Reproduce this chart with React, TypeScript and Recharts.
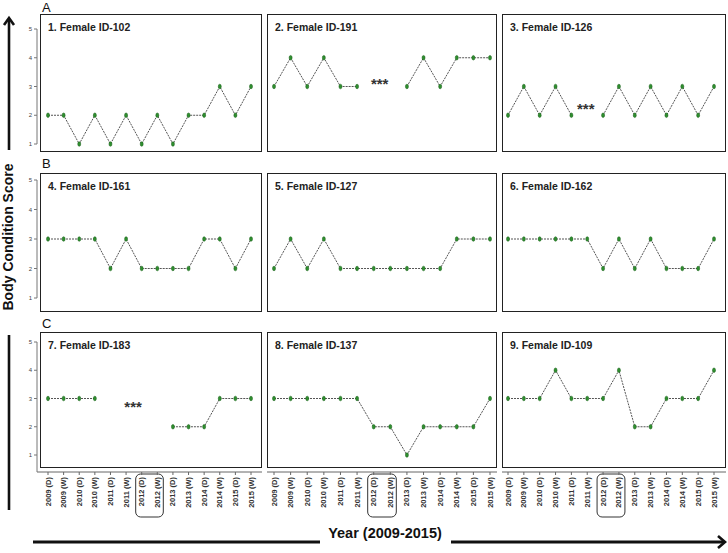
import React from 'react';
import { LineChart, Line, XAxis, YAxis, ReferenceDot, ReferenceArea } from 'recharts';

const categories = [
  '2009 (D)', '2009 (W)', '2010 (D)', '2010 (W)', '2011 (D)', '2011 (W)', '2012 (D)',
  '2012 (W)', '2013 (D)', '2013 (W)', '2014 (D)', '2014 (W)', '2015 (D)', '2015 (W)',
];

const id102 = [2, 2, 1, 2, 1, 2, 1, 2, 1, 2, 2, 3, 2, 3];
const id191 = [3, 4, 3, 4, 3, 3, null, null, 3, 4, 3, 4, 4, 4];
const id126 = [2, 3, 2, 3, 2, null, 2, 3, 2, 3, 2, 3, 2, 3];
const id161 = [3, 3, 3, 3, 2, 3, 2, 2, 2, 2, 3, 3, 2, 3];
const id127 = [2, 3, 2, 3, 2, 2, 2, 2, 2, 2, 2, 3, 3, 3];
const id162 = [3, 3, 3, 3, 3, 3, 2, 3, 2, 3, 2, 2, 2, 3];
const id183 = [3, 3, 3, 3, null, null, null, null, 2, 2, 2, 3, 3, 3];
const id137 = [3, 3, 3, 3, 3, 3, 2, 2, 1, 2, 2, 2, 2, 3];
const id109 = [3, 3, 3, 4, 3, 3, 3, 4, 2, 2, 3, 3, 3, 4];

const seriesKeys = ['id102', 'id191', 'id126', 'id161', 'id127', 'id162', 'id183', 'id137', 'id109'];
const seriesValues = [id102, id191, id126, id161, id127, id162, id183, id137, id109];
const panelTitles = [
  '1. Female ID-102', '2. Female ID-191', '3. Female ID-126',
  '4. Female ID-161', '5. Female ID-127', '6. Female ID-162',
  '7. Female ID-183', '8. Female ID-137', '9. Female ID-109',
];
const rowLetters = ['A', 'B', 'C'];
const yTicks = [1, 2, 3, 4, 5];

const data = categories.map((cat, i) => {
  const row: any = { cat };
  seriesKeys.forEach((k, j) => {
    row[k] = seriesValues[j][i];
  });
  return row;
});

// where the "***" gap markers sit (panel index -> category / score)
const gapMarks: Record<number, { x: string; y: number; dx: number; dy: number }> = {
  1: { x: '2012 (D)', y: 3, dx: 6, dy: 2.5 },
  2: { x: '2011 (W)', y: 2, dx: -1.5, dy: -1 },
  6: { x: '2011 (W)', y: 3, dx: 7, dy: 13.5 },
};

const COLS = [
  { boxL: 40, boxR: 262, chartL: 0, yW: 37, padL: 11, padR: 11 },
  { boxL: 267, boxR: 497, chartL: 267, yW: 0, padL: 7, padR: 7 },
  { boxL: 502, boxR: 726, chartL: 502, yW: 0, padL: 6, padR: 12 },
];
const ROWS = [
  { boxT: 14, boxB: 152, y5: 29, y1: 144 },
  { boxT: 173, boxB: 312, y5: 180, y1: 298 },
  { boxT: 332, boxB: 468, y5: 342, y1: 455, axisY: 472, chartB: 532 },
];
const LETTER_Y = [12, 168, 328];

const FONT = '"Liberation Sans", Arial, sans-serif';

const GreenDot = (p: any) => {
  if (p.cy == null || p.cx == null || p.value == null) return <g key={p.key} />;
  return (
    <ellipse key={p.key} cx={p.cx} cy={p.cy} rx={1.5} ry={2.3} fill="#2f8f2f" stroke="#175c17" strokeWidth={0.5} />
  );
};

const RotTick = (p: any) => (
  <text
    x={p.x}
    y={p.y}
    transform={`rotate(-90 ${p.x} ${p.y})`}
    textAnchor="end"
    dominantBaseline="central"
    fontSize={7.5}
    fontWeight="bold"
    fill="#333"
    fontFamily={FONT}
  >
    {p.payload.value}
  </text>
);

const HighlightBox = (p: any) => (
  <rect
    x={p.x - 6}
    y={p.y + p.height + 19}
    width={p.width + 12}
    height={43}
    rx={5}
    fill="none"
    stroke="#333"
    strokeWidth={1}
  />
);

function Panel({ r, c }: { r: number; c: number }) {
  const idx = r * 3 + c;
  const col = COLS[c];
  const row = ROWS[r];
  const bottomRow = r === 2;
  const chartH = bottomRow ? row.chartB! - row.boxT : row.boxB - row.boxT;
  const margin = bottomRow
    ? { top: row.y5 - row.boxT, right: 0, bottom: 0, left: 0 }
    : { top: row.y5 - row.boxT, right: 0, bottom: row.boxB - row.y1, left: 0 };
  const mark = gapMarks[idx];

  return (
    <>
      <div
        style={{
          position: 'absolute',
          left: col.boxL,
          top: row.boxT,
          width: col.boxR - col.boxL,
          height: row.boxB - row.boxT,
          border: '1.6px solid #222',
          boxSizing: 'border-box',
        }}
      />
      <div
        style={{
          position: 'absolute',
          left: col.boxL + 8,
          top: row.boxT + 6.5,
          fontSize: 10.5,
          fontWeight: 'bold',
          color: '#222',
          whiteSpace: 'nowrap',
        }}
      >
        {panelTitles[idx]}
      </div>
      <div style={{ position: 'absolute', left: col.chartL, top: row.boxT }}>
        <LineChart width={col.boxR - col.chartL} height={chartH} data={data} margin={margin}>
          <XAxis
            dataKey="cat"
            hide={!bottomRow}
            interval={0}
            height={bottomRow ? row.chartB! - row.axisY! : 0}
            padding={{ left: col.padL, right: col.padR }}
            tick={RotTick}
            tickSize={3}
            axisLine={{ stroke: '#666' }}
            tickLine={{ stroke: '#666' }}
          />
          <YAxis
            domain={[1, 5]}
            ticks={yTicks}
            hide={c !== 0}
            width={col.yW}
            padding={bottomRow ? { top: 0, bottom: row.axisY! - row.y1 } : undefined}
            tickSize={3}
            tick={{ fontSize: 6, fill: '#444' }}
            axisLine={{ stroke: '#777' }}
            tickLine={{ stroke: '#777' }}
          />
          {bottomRow && (
            <ReferenceArea
              x1="2012 (D)"
              x2="2012 (W)"
              y1={1}
              y2={5}
              ifOverflow="visible"
              shape={HighlightBox}
            />
          )}
          <Line
            dataKey={seriesKeys[idx]}
            stroke="#555"
            strokeWidth={1}
            strokeDasharray="2 1"
            dot={GreenDot}
            activeDot={false}
            connectNulls={false}
            isAnimationActive={false}
          />
          {mark && (
            <ReferenceDot
              x={mark.x}
              y={mark.y}
              r={0}
              fill="none"
              stroke="none"
              label={(p: any) => (
                <text
                  x={p.viewBox.x + mark.dx}
                  y={p.viewBox.y + mark.dy}
                  textAnchor="middle"
                  fontSize={15}
                  fontWeight="bold"
                  fill="#333"
                  fontFamily={FONT}
                >
                  ***
                </text>
              )}
            />
          )}
        </LineChart>
      </div>
    </>
  );
}

export default function App() {
  return (
    <div
      style={{
        position: 'absolute',
        left: 0,
        top: 0,
        width: 728,
        height: 553,
        background: '#fff',
        fontFamily: FONT,
        overflow: 'hidden',
      }}
    >
      {[0, 1, 2].map((r) => [0, 1, 2].map((c) => <Panel key={`${r}-${c}`} r={r} c={c} />))}
      <svg width={728} height={553} style={{ position: 'absolute', left: 0, top: 0, pointerEvents: 'none' }}>
        {rowLetters.map((l, i) => (
          <text key={l} x={42} y={LETTER_Y[i]} fontSize={13} fill="#111" fontFamily={FONT}>
            {l}
          </text>
        ))}
        <text
          x={13}
          y={237}
          transform="rotate(-90 13 237)"
          textAnchor="middle"
          fontSize={14}
          fontWeight="bold"
          fill="#111"
          fontFamily={FONT}
        >
          Body Condition Score
        </text>
        <line x1={9} y1={150} x2={9} y2={19} stroke="#111" strokeWidth={2.6} />
        <polyline points="4,25 9,18 14,25" fill="none" stroke="#111" strokeWidth={2.6} />
        <line x1={9} y1={335} x2={9} y2={510} stroke="#111" strokeWidth={2.6} />
        <text x={385} y={538} textAnchor="middle" fontSize={14.5} fontWeight="bold" fill="#111" fontFamily={FONT}>
          Year (2009-2015)
        </text>
        <line x1={33} y1={542} x2={320} y2={542} stroke="#111" strokeWidth={3} />
        <line x1={451} y1={542} x2={724} y2={542} stroke="#111" strokeWidth={3} />
        <polyline points="718,536 725,542 718,548" fill="none" stroke="#111" strokeWidth={2.6} />
      </svg>
    </div>
  );
}
